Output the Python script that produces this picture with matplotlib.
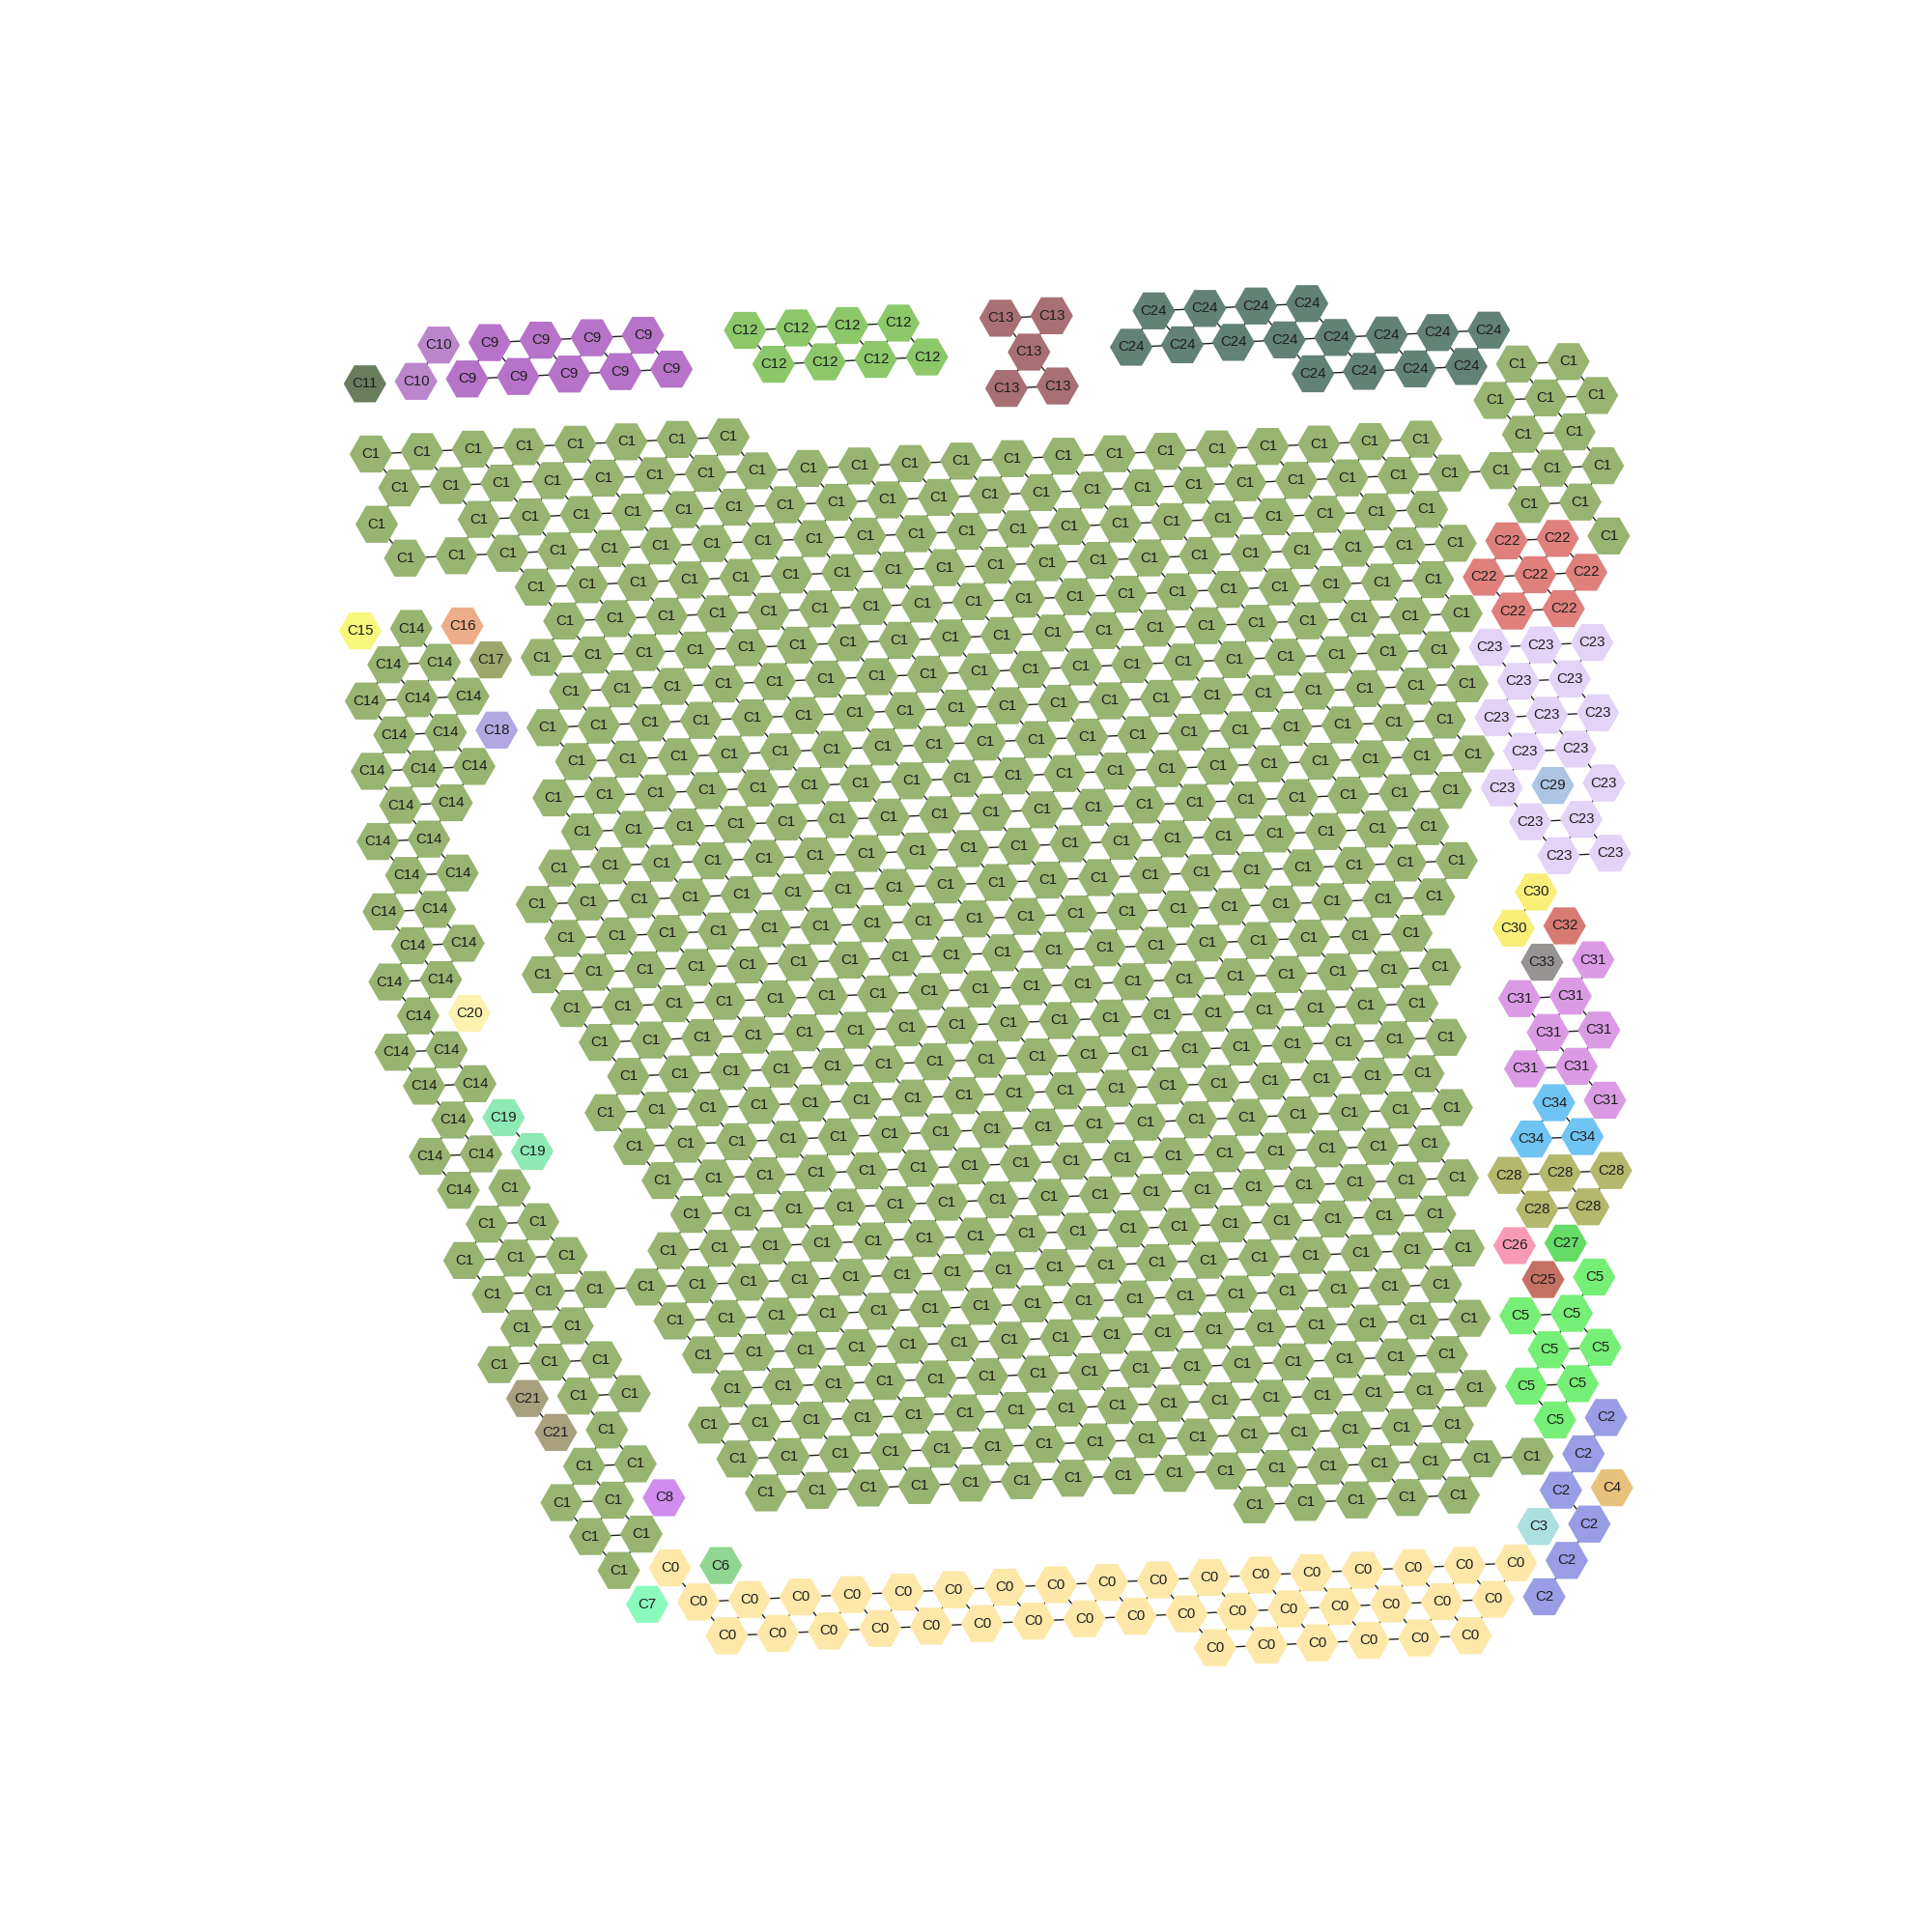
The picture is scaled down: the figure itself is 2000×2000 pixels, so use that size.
import matplotlib
matplotlib.use("Agg")
import matplotlib.pyplot as plt
from matplotlib.collections import LineCollection

# spot grid, one string per lattice row (first row index is -3).
# tokens = cluster id, "." = no spot, "x*n" = token repeated n times
first_row = -3
grid = [
    ". . 10 9*4 . 12*4 . 13 13 . 24*4 .*6",
    ". 11 10 9*5 . 12*4 . 13 . 24*8 . .",
    ".*13 13 13 .*4 24*4 1 1 .",
    ". 1*8 .*14 1*3",
    ". 1*21 . 1 1 .",
    ". 1 . 1*23",
    ". 1*21 . 1 1 .",
    ".*4 1*19 22 22 1",
    "15 14 16 . 1*18 22*3 .",
    ". 14 14 17 1*19 22 22 .",
    "14*3 . 1*18 23*3 .",
    ". 14 14 18 1*19 23 23 .",
    "14*3 . 1*18 23*3 .",
    ". 14 14 . 1*19 23 23 .",
    "14 14 . . 1*18 23 29 23 .",
    ". 14 14 . 1*18 . 23 23 .",
    "14 14 . 1*19 . 23 23 .",
    ". 14 14 . 1*18 . 30 . .",
    "14 14 . 1*18 . 30 32 . .",
    ". 14 20 . 1*18 . 33 31 .",
    "14 14 . . 1*17 . 31 31 . .",
    ". 14 14 . . 1*17 . 31 31 .",
    ". 14 19 . 1*17 . 31 31 . .",
    ". 14 14 19 . 1*17 . 34 31 .",
    ". 14 1 . . 1*16 . 34 34 . .",
    ". . 1 1 . . 1*16 28*3 .",
    ". 1*3 . 1*16 . 28 28 . .",
    ". . 1*20 26 27 . .",
    ". . 1 1 . 1*16 . 25 5 . .",
    ". . 1*3 . 1*16 5 5 . .",
    ". . 21 1 1 . 1*15 . 5 5 . .",
    ".*3 21 1 . 1*16 5 5 . .",
    ".*3 1 1 . 1*15 . 5 2 . .",
    ".*3 1 1 8 . 1*16 2 . .",
    ".*3 1 1 .*11 1*5 . 2 4 . .",
    ".*4 1 0 6 .*15 3 2 . .",
    ".*4 7 0*17 2 .*3",
    ".*6 0*16 2 .*3",
    ".*15 0*6 .*5",
]

palette = {
    "0": "#fde8a9", "1": "#97b470", "2": "#999de6", "3": "#acdfe0",
    "4": "#e8c27d", "5": "#76ef76", "6": "#8fd693", "7": "#8afbbd",
    "8": "#d08cef", "9": "#b673c9", "10": "#bc86cc", "11": "#697d5d",
    "12": "#8cc86a", "13": "#a86f74", "14": "#97b470", "15": "#f7f77c",
    "16": "#edad89", "17": "#9ea76b", "18": "#b2a7e3", "19": "#8eeab4",
    "20": "#fdf1b0", "21": "#a8a07e", "22": "#df807c", "23": "#e3d3f7",
    "24": "#628276", "25": "#c47163", "26": "#f89ab6", "27": "#65dc66",
    "28": "#b3b86c", "29": "#adc4e2", "30": "#f9ee78", "31": "#da9be4",
    "32": "#d77a72", "33": "#989393", "34": "#6fc4f3",
}

# lattice -> picture frame (1568 px wide)
x0, y0 = 301.0, 368.5
qx, qy = 20.73, -0.99
rx, ry = 2.4, 28.5


def expand(line):
    out = []
    for tok in line.split():
        if "*" in tok:
            lab, n = tok.split("*")
            out += [lab] * int(n)
        else:
            out.append(tok)
    return out


spots = {}
for k, line in enumerate(grid):
    r = first_row + k
    for i, lab in enumerate(expand(line)):
        if lab == ".":
            continue
        q = 2 * i - 2 + (r % 2)
        spots[(q, r)] = lab


def pos(q, r):
    return x0 + qx * q + rx * r, y0 + qy * q + ry * r


segs = []
for (q, r), lab in spots.items():
    for dq, dr in ((2, 0), (1, 1), (-1, 1)):
        nb = (q + dq, r + dr)
        if spots.get(nb) == lab:
            segs.append([pos(q, r), pos(*nb)])

fig = plt.figure(figsize=(10, 10), dpi=200)
ax = fig.add_axes([0, 0, 1, 1])
ax.set_xlim(0, 1568)
ax.set_ylim(1568, 0)
ax.axis("off")

ax.add_collection(LineCollection(segs, colors="#222222", linewidths=0.5, zorder=1))

keys = list(spots.keys())
xs = [pos(q, r)[0] for q, r in keys]
ys = [pos(q, r)[1] for q, r in keys]
cols = [palette[spots[k]] for k in keys]
ax.scatter(xs, ys, s=253, marker="H", c=cols, linewidths=0, zorder=2)

for (q, r), x, y in zip(keys, xs, ys):
    ax.text(x, y, "C" + spots[(q, r)], ha="center", va="center",
            fontsize=5.4, family=["Liberation Sans", "DejaVu Sans"],
            color="#1e1e1e", zorder=3)

fig.savefig("out.png", dpi=200)
